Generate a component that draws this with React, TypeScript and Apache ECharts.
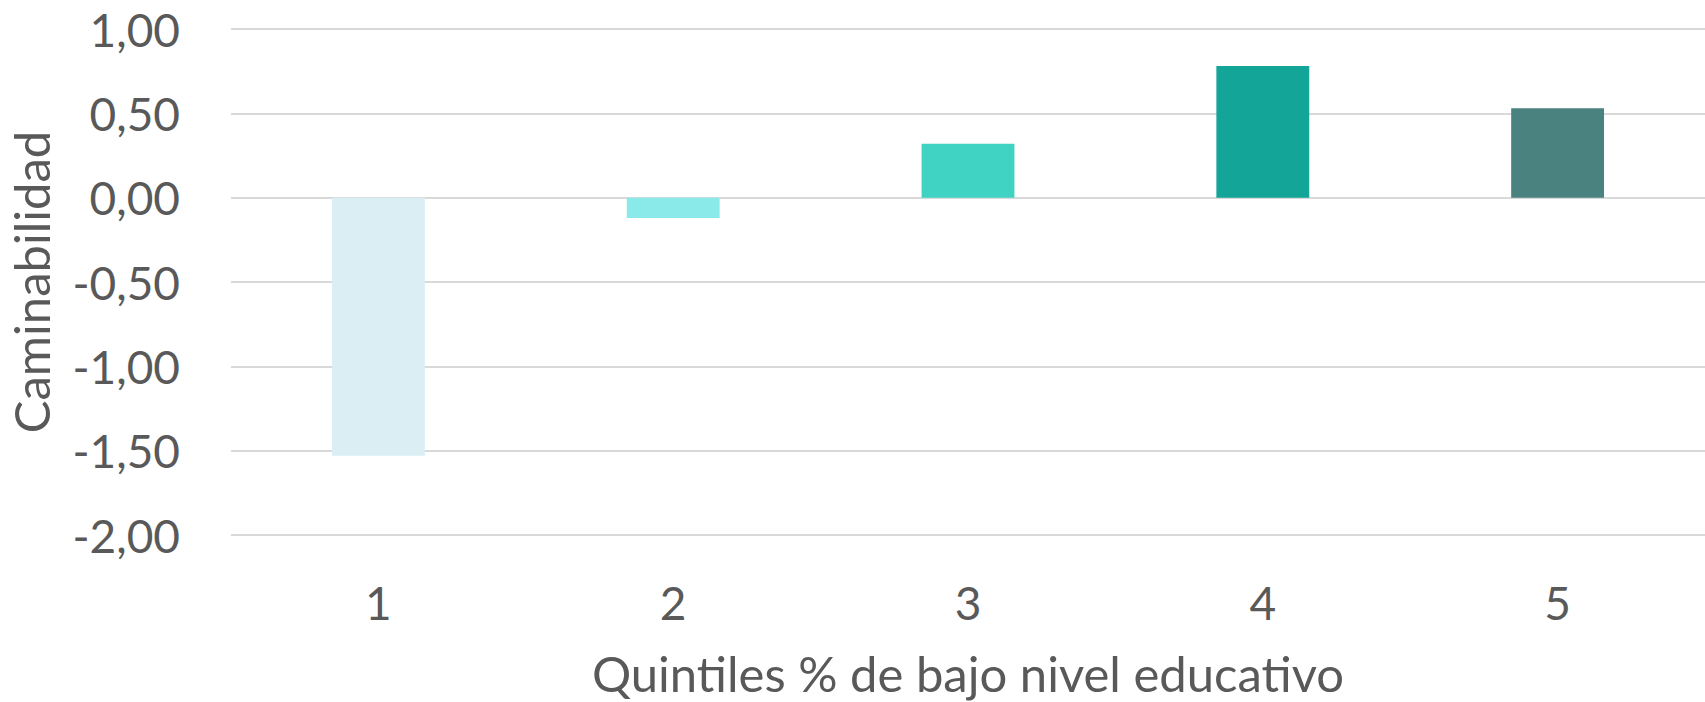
import React, { useEffect, useRef } from "react";
import * as echarts from "echarts";

const categories = ["1", "2", "3", "4", "5"];
const values = [-1.53, -0.12, 0.32, 0.78, 0.53];
const barColors = ["#DAEEF3", "#8AE9E9", "#40D3C4", "#13A597", "#4A8280"];
const yTicks = { min: -2, max: 1, interval: 0.5 };
const xTitle = "Quintiles % de bajo nivel educativo";
const yTitle = "Caminabilidad";

const FONT = "Lato";
const TEXT = "#595959";

export default function App() {
  const ref = useRef<HTMLDivElement>(null);
  useEffect(() => {
    if (!ref.current) return;
    const chart = echarts.init(ref.current, null, { renderer: "svg" });
    chart.setOption({
      animation: false,
      backgroundColor: "#ffffff",
      grid: {
        left: 231,
        right: 0,
        top: 29,
        bottom: 167,
        containLabel: false,
        outerBoundsMode: "none",
      },
      xAxis: {
        type: "category",
        data: categories,
        axisLine: { show: false },
        axisTick: { show: false },
        axisLabel: { color: TEXT, fontFamily: FONT, fontSize: 46, margin: 44 },
        name: xTitle,
        nameLocation: "middle",
        nameGap: 113,
        nameTextStyle: { color: TEXT, fontFamily: FONT, fontSize: 49 },
      },
      yAxis: {
        type: "value",
        min: yTicks.min,
        max: yTicks.max,
        interval: yTicks.interval,
        axisLine: { show: false },
        axisTick: { show: false },
        splitLine: { lineStyle: { color: "#D9D9D9", width: 2 } },
        axisLabel: {
          color: TEXT,
          fontFamily: FONT,
          fontSize: 46,
          margin: 51,
          formatter: (v: number) => v.toFixed(2).replace(".", ","),
        },
        name: yTitle,
        nameLocation: "middle",
        nameGap: 176,
        nameTextStyle: { color: TEXT, fontFamily: FONT, fontSize: 49 },
      },
      series: [
        {
          type: "bar",
          barWidth: "31.5%",
          data: values.map((v, i) => ({ value: v, itemStyle: { color: barColors[i] } })),
        },
      ],
    });
    return () => chart.dispose();
  }, []);
  return (
    <div
      ref={ref}
      style={{ position: "fixed", left: 0, top: 0, width: 1705, height: 702, background: "#fff" }}
    />
  );
}
